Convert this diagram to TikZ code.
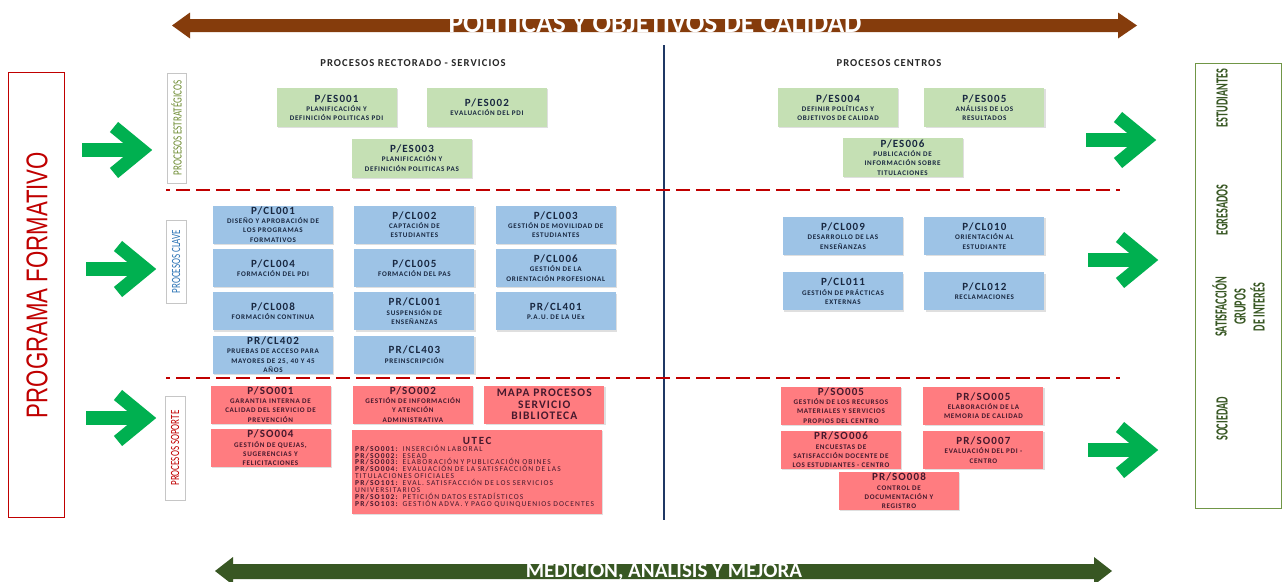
\documentclass[tikz,border=0pt]{standalone}
\usepackage{fontspec}
\setmainfont{Carlito}
\newfontfamily\boxfamily{Carlito}[LetterSpace=10]
\newfontfamily\utecfamily{Carlito}[LetterSpace=15]
\newfontfamily\progfamily{Liberation Sans}
\usetikzlibrary{positioning,calc,shadows}

\definecolor{brownbar}{RGB}{133,60,12}
\definecolor{greenbar}{RGB}{56,87,35}
\definecolor{goGreen}{RGB}{0,176,80}
\definecolor{estFill}{RGB}{197,224,180}
\definecolor{claveFill}{RGB}{157,195,230}
\definecolor{soFill}{RGB}{255,124,128}
\definecolor{boxText}{RGB}{25,40,65}
\definecolor{soText}{RGB}{70,25,45}
\definecolor{darkRed}{RGB}{192,0,0}
\definecolor{navyLine}{RGB}{31,56,100}
\definecolor{olive}{RGB}{110,140,50}
\definecolor{claveBlue}{RGB}{46,117,182}
\definecolor{interesGreen}{RGB}{56,87,35}
\definecolor{grupoLine}{RGB}{112,150,70}

\newcommand\boxfont{\boxfamily\bfseries\fontsize{7.1}{9.3}\selectfont}
\newcommand\boxtitle[1]{{\fontsize{11}{11}\selectfont #1}}
\newcommand\mapafont{\boxfamily\bfseries\fontsize{11.5}{11.5}\selectfont}
\newcommand\utecfont{\utecfamily\fontsize{7.5}{6.9}\selectfont}
\newcommand\headfont{\boxfamily\bfseries\fontsize{10.6}{10.6}\selectfont}
\newcommand\catfont{\fontsize{12.5}{12.5}\selectfont}
\newcommand\interesfont{\bfseries\fontsize{17}{19}\selectfont}
\newcommand\progfont{\progfamily\fontsize{30}{30}\selectfont}
\newcommand\narrowtext[2]{\scalebox{#1}[1]{#2}}

\tikzset{
  goarrow/.pic = {
    \fill[goGreen] (-4,-7) rectangle (52,7);
    \draw[goGreen, line width=13pt, miter limit=10] (28,23) -- (56,0) -- (28,-23);
  }
}

\begin{document}
\begin{tikzpicture}[x=1pt, y=-1pt,
  node distance = 5pt,
  box/.style         = {rectangle, minimum width=120pt, minimum height=38pt, inner sep=0pt, align=center, font=\boxfont,
                        drop shadow={shadow xshift=1.2pt, shadow yshift=-1.2pt, opacity=0.25}},
  estrategico/.style = {box, fill=estFill, text=boxText, minimum height=39pt},
  clave/.style       = {box, fill=claveFill, text=boxText},
  soporte/.style     = {box, fill=soFill, text=soText},
  grupo/.style       = {rectangle, rotate=90, draw=gray!45, fill=white, inner sep=0pt, font=\catfont,
                        drop shadow={shadow xshift=1pt, shadow yshift=-1pt, opacity=0.2}},
  header/.style      = {font=\headfont, text=black!85},
  interes/.style     = {rotate=90, text=interesGreen, font=\interesfont, align=center, inner sep=0pt},
  sepline/.style     = {darkRed, line width=1.2pt, dash pattern=on 14pt off 6pt, dash phase=10pt},
  bartext/.style     = {text=white, anchor=base, inner sep=0pt},
  ]
  \fill[white] (0,0) rectangle (1282,581);
  \useasboundingbox (0,0) rectangle (1282,581);

  % banners
  \fill[brownbar] (172,25.5) -- (190,12.5) -- (190,19) -- (1118,19) -- (1118,12.5) -- (1137,25.5)
                  -- (1118,38.5) -- (1118,32) -- (190,32) -- (190,38.5) -- cycle;
  \node[bartext, font=\bfseries\fontsize{27.5}{27.5}\selectfont] (politicas) at (655,32.5) {POLITICAS Y OBJETIVOS DE CALIDAD};
  \fill[greenbar] (215,571) -- (233,557) -- (233,564) -- (1094,564) -- (1094,557) -- (1112,571)
                  -- (1094,585) -- (1094,579) -- (233,579) -- (233,585) -- cycle;
  \node[bartext, font=\bfseries\fontsize{21}{21}\selectfont] (medicion) at (664,577.2) {MEDICIÓN, ANALISIS Y MEJORA};

  % separators
  \draw[navyLine, line width=2.2pt] (664,45) -- (664,520);
  \draw[sepline] (166,190) -- (1120,190);
  \draw[sepline] (166,378) -- (1120,378);

  \node[header] (rectorado) at (413,63) {PROCESOS RECTORADO - SERVICIOS};
  \node[header] (centros) at (889,63) {PROCESOS CENTROS};

  % programa formativo and grupos de interes
  \node[draw=darkRed, line width=0.8pt, minimum width=56pt, minimum height=445pt, inner sep=0pt] (programa) at (36.5,294.5) {};
  \node[rotate=90, text=darkRed, font=\progfont, inner sep=0pt] (programaText) at (37,285) {\narrowtext{0.74}{PROGRAMA FORMATIVO}};
  \node[draw=grupoLine, line width=0.8pt, minimum width=86pt, minimum height=445pt, inner sep=0pt] (grupos) at (1238,285.5) {};
  \node[interes] (estudiantes) at (1222,98) {\narrowtext{0.6}{ESTUDIANTES}};
  \node[interes] (egresados) at (1222,210) {\narrowtext{0.6}{EGRESADOS}};
  \node[interes] (satisfaccion) at (1238.5,307) {\narrowtext{0.6}{SATISFACCIÓN}\\\narrowtext{0.6}{GRUPOS}\\\narrowtext{0.6}{DE INTERÉS}};
  \node[interes] (sociedad) at (1222,419) {\narrowtext{0.6}{SOCIEDAD}};

  % process families
  \node[grupo, minimum width=110pt, minimum height=19pt, text=olive] (estrategicos) at (176.5,128) {\narrowtext{0.72}{PROCESOS ESTRATÉGICOS}};
  \node[grupo, minimum width=83pt, minimum height=20pt, text=claveBlue] (claves) at (176,261.5) {\narrowtext{0.72}{PROCESOS CLAVE}};
  \node[grupo, minimum width=104pt, minimum height=20pt, text=darkRed] (soportes) at (175,448) {\narrowtext{0.72}{PROCESOS SOPORTE}};

  % estrategicos
  \node[estrategico] (es001) at (336.5,107.5) {\boxtitle{P/ES001}\\PLANIFICACIÓN Y\\DEFINICIÓN POLITICAS PDI};
  \node[estrategico, right=30pt of es001] (es002) {\boxtitle{P/ES002}\\EVALUACIÓN DEL PDI};
  \node[estrategico] (es003) at (412,158) {\boxtitle{P/ES003}\\PLANIFICACIÓN Y\\DEFINICIÓN POLITICAS PAS};
  \node[estrategico] (es004) at (838,107.5) {\boxtitle{P/ES004}\\DEFINIR POLÍTICAS Y\\OBJETIVOS DE CALIDAD};
  \node[estrategico, right=26pt of es004] (es005) {\boxtitle{P/ES005}\\ANÁLISIS DE LOS\\RESULTADOS};
  \node[estrategico] (es006) at (902.5,157.5) {\boxtitle{P/ES006}\\PUBLICACIÓN DE\\INFORMACIÓN SOBRE\\TITULACIONES};

  % clave
  \node[clave] (cl001) at (273,224.5) {\boxtitle{P/CL001}\\DISEÑO Y APROBACIÓN DE\\LOS PROGRAMAS\\FORMATIVOS};
  \node[clave, below=of cl001] (cl004) {\boxtitle{P/CL004}\\FORMACIÓN DEL PDI};
  \node[clave, below=of cl004] (cl008) {\boxtitle{P/CL008}\\FORMACIÓN CONTINUA};
  \node[clave, below=of cl008] (prcl402) {\boxtitle{PR/CL402}\\PRUEBAS DE ACCESO PARA\\MAYORES DE 25, 40 Y 45\\AÑOS};
  \node[clave, right=21pt of cl001] (cl002) {\boxtitle{P/CL002}\\CAPTACIÓN DE\\ESTUDIANTES};
  \node[clave, below=of cl002] (cl005) {\boxtitle{P/CL005}\\FORMACIÓN DEL PAS};
  \node[clave, below=of cl005] (prcl001) {\boxtitle{PR/CL001}\\SUSPENSIÓN DE\\ENSEÑANZAS};
  \node[clave, below=of prcl001] (prcl403) {\boxtitle{PR/CL403}\\PREINSCRIPCIÓN};
  \node[clave, right=21pt of cl002] (cl003) {\boxtitle{P/CL003}\\GESTIÓN DE MOVILIDAD DE\\ESTUDIANTES};
  \node[clave, below=of cl003] (cl006) {\boxtitle{P/CL006}\\GESTIÓN DE LA\\ORIENTACIÓN PROFESIONAL};
  \node[clave, below=of cl006] (prcl401) {\boxtitle{PR/CL401}\\P.A.U. DE LA UEx};
  \node[clave] (cl009) at (843,236) {\boxtitle{P/CL009}\\DESARROLLO DE LAS\\ENSEÑANZAS};
  \node[clave, right=21pt of cl009] (cl010) {\boxtitle{P/CL010}\\ORIENTACIÓN AL\\ESTUDIANTE};
  \node[clave, below=17pt of cl009] (cl011) {\boxtitle{P/CL011}\\GESTIÓN DE PRÁCTICAS\\EXTERNAS};
  \node[clave, below=17pt of cl010] (cl012) {\boxtitle{P/CL012}\\RECLAMACIONES};

  % soporte
  \node[soporte] (so001) at (270.5,404.5) {\boxtitle{P/SO001}\\GARANTIA INTERNA DE\\CALIDAD DEL SERVICIO DE\\PREVENCIÓN};
  \node[soporte, right=22pt of so001] (so002) {\boxtitle{P/SO002}\\GESTIÓN DE INFORMACIÓN\\Y ATENCIÓN\\ADMINISTRATIVA};
  \node[soporte, right=11pt of so002, font=\mapafont] (mapa) {MAPA PROCESOS\\SERVICIO\\BIBLIOTECA};
  \node[soporte, below=of so001] (so004) {\boxtitle{P/SO004}\\GESTIÓN DE QUEJAS,\\SUGERENCIAS Y\\FELICITACIONES};
  \node[soporte, anchor=north west, minimum width=250pt, minimum height=84pt, text width=244pt, align=left, font=\utecfont] (utec) at (352,430)
    {\centering{\bfseries\boxtitle{UTEC}}\par\raggedright
     \textbf{PR/SO001:} INSERCIÓN LABORAL\\
     \textbf{PR/SO002:} ESEAD\\
     \textbf{PR/SO003:} ELABORACIÓN Y PUBLICACIÓN OBINES\\
     \textbf{PR/SO004:} EVALUACIÓN DE LA SATISFACCIÓN DE LAS\\
     TITULACIONES OFICIALES\\
     \textbf{PR/SO101:} EVAL. SATISFACCIÓN DE LOS SERVICIOS\\
     UNIVERSITARIOS\\
     \textbf{PR/SO102:} PETICIÓN DATOS ESTADÍSTICOS\\
     \textbf{PR/SO103:} GESTIÓN ADVA. Y PAGO QUINQUENIOS DOCENTES};
  \node[soporte] (so005) at (841,405.5) {\boxtitle{P/SO005}\\GESTIÓN DE LOS RECURSOS\\MATERIALES Y SERVICIOS\\PROPIOS DEL CENTRO};
  \node[soporte, right=22pt of so005] (prso005) {\boxtitle{PR/SO005}\\ELABORACIÓN DE LA\\MEMORIA DE CALIDAD};
  \node[soporte, below=6pt of so005] (prso006) {\boxtitle{PR/SO006}\\ENCUESTAS DE\\SATISFACCIÓN DOCENTE DE\\LOS ESTUDIANTES - CENTRO};
  \node[soporte, below=6pt of prso005] (prso007) {\boxtitle{PR/SO007}\\EVALUACIÓN DEL PDI -\\CENTRO};
  \node[soporte] (prso008) at (899,491) {\boxtitle{PR/SO008}\\CONTROL DE\\DOCUMENTACIÓN Y\\REGISTRO};

  % green arrows
  \pic at (86,150) {goarrow};
  \pic at (90,269) {goarrow};
  \pic at (90,418) {goarrow};
  \pic at (1090,140) {goarrow};
  \pic at (1092,260) {goarrow};
  \pic at (1092,450) {goarrow};
\end{tikzpicture}
\end{document}
